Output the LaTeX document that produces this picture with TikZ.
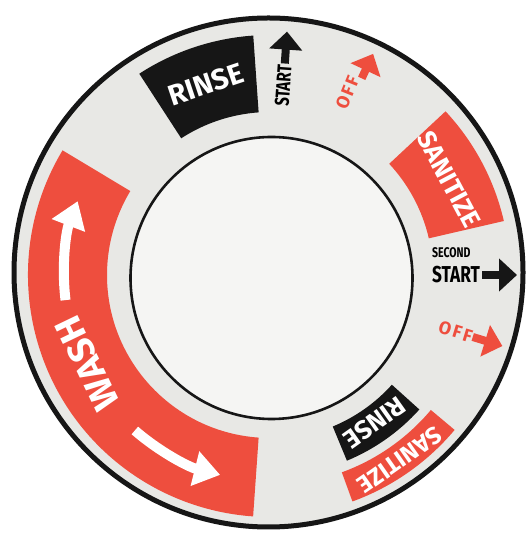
\documentclass[tikz,border=0pt]{standalone}
\usepackage{fontspec}
\setmainfont{Fira Sans}
\newfontfamily\narrowfont[FakeStretch=0.75]{Fira Sans}
\usetikzlibrary{arrows.meta}
\definecolor{dialred}{RGB}{238,78,62}
\definecolor{dialgray}{RGB}{232,232,229}
\definecolor{dialface}{RGB}{245,245,243}
\definecolor{dialink}{RGB}{22,22,22}

\begin{document}
\begin{tikzpicture}[x=1pt, y=1pt, line cap=butt,
    lbl/.style={inner sep=0pt, text=white, font={\fontsize{#1}{#1}\selectfont\bfseries}},
    tag/.style={inner sep=0pt, font={\narrowfont\fontsize{#1}{#1}\selectfont\bfseries}},
    offtag/.style={inner sep=0pt, text=dialred, font={\fontsize{#1}{#1}\selectfont\bfseries\addfontfeature{LetterSpace=12}}},
    knob/.style={line width=8pt, -{Triangle[width=32pt,length=18pt]}},
    washarrow/.style={white, line width=10pt, -{Triangle[width=34pt,length=26pt]}}]
    % 底与外圈
    \fill[white] (0,0) rectangle (532,535);
    \useasboundingbox (0,0) rectangle (532,535);
    \coordinate (O) at (268.5,262.5);
    \coordinate (C) at (270,260);
    \coordinate (I) at (271.5,257);
    \draw[line width=5pt, draw=dialink, fill=dialgray] (O) circle (254.5);

    % 色块
    \fill[dialred] ([shift={(149:242)}]C) arc[start angle=149, end angle=266, radius=242]
        -- ([shift={(266:163)}]C) arc[start angle=266, end angle=149, radius=163] -- cycle;
    \fill[dialink] ([shift={(94:240)}]C) arc[start angle=94, end angle=123, radius=240]
        -- ([shift={(123:163)}]C) arc[start angle=123, end angle=94, radius=163] -- cycle;
    \fill[dialred] ([shift={(13:240)}]C) arc[start angle=13, end angle=43, radius=240]
        -- ([shift={(43:163)}]C) arc[start angle=43, end angle=13, radius=163] -- cycle;
    \fill[dialink] ([shift={(-67.5:201)}]C) arc[start angle=-67.5, end angle=-42, radius=201]
        -- ([shift={(-42:164)}]C) arc[start angle=-42, end angle=-67.5, radius=164] -- cycle;
    \fill[dialred] ([shift={(-70:241)}]C) arc[start angle=-70, end angle=-40, radius=241]
        -- ([shift={(-40:210)}]C) arc[start angle=-40, end angle=-70, radius=210] -- cycle;

    % 内圈
    \draw[line width=2.6pt, draw=dialink, fill=dialface] (I) circle (141);

    % 色块文字
    \node[lbl=29, rotate=18.5] (rinseA) at ([shift={(108.5:201)}]C) {RINSE};
    \node[lbl=26, rotate=-62] (sanitizeA) at ([shift={(28:203)}]C) {SANITIZE};
    \node[lbl=37, rotate=115.7] (wash) at ([shift={(205.7:203)}]C) {WASH};
    \node[lbl=26, rotate=-144.6] (rinseB) at ([shift={(-54.6:181)}]C) {RINSE};
    \node[lbl=24, rotate=-145] (sanitizeB) at ([shift={(-55:226)}]C) {SANITIZE};

    % 洗涤箭头
    \draw[washarrow] ([shift={(187:206)}]C) arc[start angle=187, end angle=159, radius=206];
    \draw[washarrow] ([shift={(229:206)}]C) arc[start angle=229, end angle=256, radius=206];

    % 启动与关闭标记
    \node[tag=20, rotate=86] (startA) at ([shift={(86:190)}]C) {START};
    \draw[knob, dialink] ([shift={(86:212)}]C) -- ([shift={(86:244)}]C);
    \node[offtag=18, rotate=68] (offA) at ([shift={(67:198)}]C) {OFF};
    \draw[knob, dialred] ([shift={(65:217)}]C) -- ([shift={(65:244)}]C);
    \node[tag=14, anchor=west] (second) at (432,282) {SECOND};
    \node[tag=23, anchor=west] (startB) at (432,260) {START};
    \draw[knob, dialink] ([shift={(0:212)}]C) -- ([shift={(0:247)}]C);
    \node[offtag=18, rotate=-17] (offB) at ([shift={(-17:194)}]C) {OFF};
    \draw[knob, dialred] ([shift={(-17:212)}]C) -- ([shift={(-17:243)}]C);
\end{tikzpicture}
\end{document}
